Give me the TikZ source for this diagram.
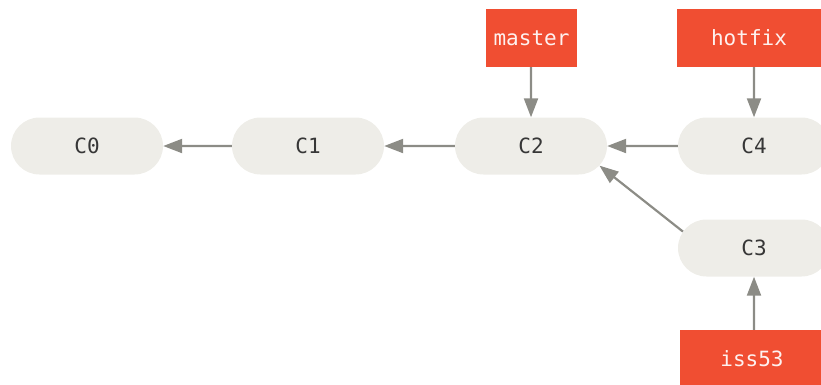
\documentclass[tikz,border=0pt]{standalone}
\usepackage{fontspec}
\setmonofont{DejaVu Sans Mono}
\usetikzlibrary{shapes.misc,arrows.meta}
\definecolor{gitred}{RGB}{240,78,50}
\definecolor{commitfill}{RGB}{238,237,232}
\definecolor{arrowgray}{RGB}{140,140,134}
\definecolor{committext}{RGB}{55,55,55}
\tikzset{
  commit/.style={rounded rectangle, fill=commitfill, minimum width=152pt, minimum height=57pt, inner sep=0pt, font=\ttfamily\fontsize{21}{24}\selectfont, text=committext},
  branch/.style={rectangle, fill=gitred, inner sep=0pt, font=\ttfamily\fontsize{21}{24}\selectfont, text=white!92!gitred},
  link/.style={draw=arrowgray, line width=2.2pt, -{Triangle[length=19pt,width=14pt]}}
}
\begin{document}
\begin{tikzpicture}[x=1pt,y=-1pt]
\useasboundingbox (0,0) rectangle (821,384);
\clip (0,0) rectangle (821,384);
\node[commit] (C0) at (87,146) {C0};
\node[commit] (C1) at (308,146) {C1};
\node[commit] (C2) at (531,146) {C2};
\node[commit] (C4) at (754,146) {C4};
\node[commit] (C3) at (754,248) {C3};
\node[branch, minimum width=91pt, minimum height=58pt] (master) at (531.5,38) {master};
\node[branch, minimum width=144pt, minimum height=58pt] (hotfix) at (749,38) {hotfix};
\node[branch, minimum width=144pt, minimum height=58pt] (iss53) at (752,359) {iss53};
\draw[link] (C1) -- (C0);
\draw[link] (C2) -- (C1);
\draw[link] (C4) -- (C2);
\draw[link] (C3.167) -- (C2.-16);
\draw[link] (master.south -| C2) -- (C2);
\draw[link] (hotfix.south -| C4) -- (C4);
\draw[link] (iss53.north -| C3) -- (C3);
\end{tikzpicture}
\end{document}
